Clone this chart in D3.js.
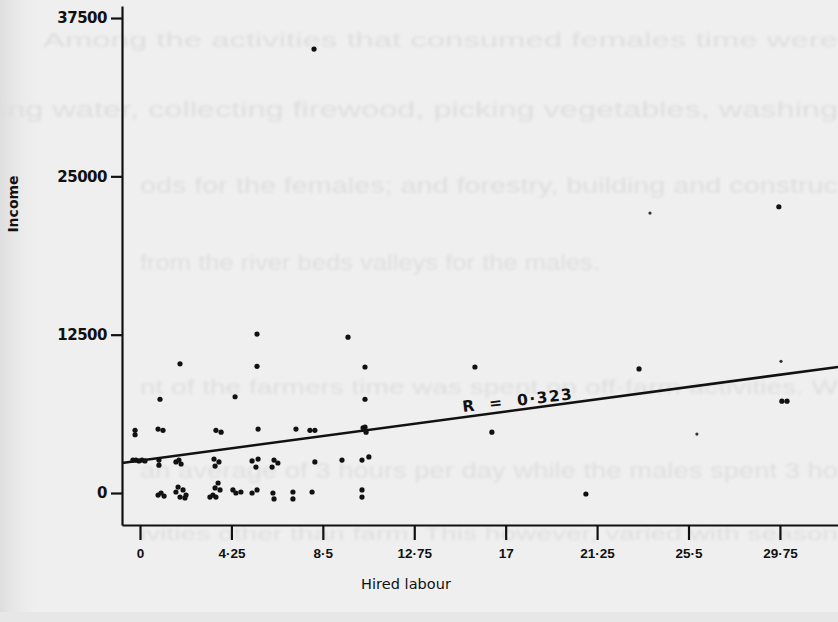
<!DOCTYPE html>
<html>
<head>
<meta charset="utf-8">
<script src="https://cdn.jsdelivr.net/npm/d3@7"></script>
<style>
  body { margin: 0; background: #efefef; }
  svg { display: block; }
  .axis path, .axis line { stroke: #111; stroke-width: 2.2; }
  .axis text { font-weight: bold; fill: #111; }
</style>
</head>
<body>
<svg id="chart" width="838" height="622"></svg>
<script>
// hired labour (x) and income (y)
var hours = [
  8.09, 23.71, 29.70, 29.80, 23.20, 29.84, 30.08, 25.89, 20.73, 16.36,
  9.67, 10.46, 10.46, 10.46, 10.37, 10.51, 15.57, 7.25, 7.90, 8.13,
  8.13, 9.39, 10.32, 10.64, 7.11, 7.11, 8.00, 10.32, 10.32, 5.49,
  5.21, 5.49, 5.39, 6.23, 6.41, 6.14, 5.21, 5.44, 6.18, 6.23,
  0.93, 4.42, 5.44, 1.86, 5.44, -0.23, -0.23, 0.84, 1.07, 3.53,
  3.77, -0.33, -0.19, -0.05, 0.09, 0.23, 0.88, 0.88, 1.67, 1.91,
  1.81, 3.44, 3.67, 3.49, 0.84, 0.98, 1.12, 1.77, 1.67, 2.00,
  2.14, 1.86, 2.09, 3.63, 3.49, 3.72, 3.39, 3.25, 3.53, 4.32,
  4.46, 4.69
];
var income = [
  35050, 22100, 22600, 10400, 9800, 7250, 7250, 4650, -80, 4800,
  12300, 9950, 7400, 5200, 5150, 4800, 9950, 5050, 4950, 4950,
  2450, 2600, 2600, 2850, 80, -470, 80, 240, -320, 5050,
  2530, 2680, 2050, 2600, 2370, 2050, 0, 240, 0, -470,
  7400, 7600, 12550, 10200, 10000, 4950, 4600, 5050, 4950, 4950,
  4800, 2600, 2600, 2530, 2600, 2530, 2600, 2200, 2450, 2290,
  2600, 2680, 2450, 2130, -160, 0, -240, 470, 80, 240,
  -160, -320, -390, 790, 400, 240, -160, -320, -320, 240,
  0, 80
];
// faint dots in the scan
var faint = [1, 3, 7];

var xTicks = [0, 4.25, 8.5, 12.75, 17, 21.25, 25.5, 29.75];
var xTickLabels = ["0", "4·25", "8·5", "12·75", "17", "21·25", "25·5", "29·75"];
var yTicks = [0, 12500, 25000, 37500];
var yTickLabels = ["0", "12500", "25000", "37500"];

// fitted line: income = intercept + slope * hours
var intercept = 2560, slope = 227.7;
var rLabel = "R  =  0·323";

// text showing through from the other side of the page
var ghostLines = [
  "Among the activities that consumed females time were",
  "ing water, collecting firewood, picking vegetables, washing",
  "ods  for  the  females;  and  forestry,  building  and  construc",
  "from the river beds valleys for the males.",
  "nt of the farmers time was spent on off-farm activities.  W",
  "an average of 3 hours per day while the males spent 3  ho",
  "ivities other than farm.  This however, varied with season"
];
var ghostX = [43, 0, 140, 140, 140, 140, 140];
var ghostY = [47, 117, 193, 270, 394, 478, 540];
var ghostW = [795, 838, 698, 460, 698, 698, 698];
var ghostSize = [21, 22, 22, 22, 21, 22, 19];

var svg = d3.select("#chart");

var defs = svg.append("defs");
defs.append("filter").attr("id", "soft")
  .attr("x", "-5%").attr("y", "-20%").attr("width", "110%").attr("height", "140%")
  .append("feGaussianBlur").attr("stdDeviation", 1.5);
var lg = defs.append("linearGradient").attr("id", "edge");
lg.append("stop").attr("offset", 0).attr("stop-color", "#dedede");
lg.append("stop").attr("offset", 1).attr("stop-color", "#efefef").attr("stop-opacity", 0);

svg.append("rect").attr("width", 838).attr("height", 622).attr("fill", "#efefef");
svg.append("rect").attr("width", 45).attr("height", 622).attr("fill", "url(#edge)");
svg.append("rect").attr("y", 612).attr("width", 838).attr("height", 10).attr("fill", "#e7e7e7");

svg.append("g").attr("filter", "url(#soft)")
  .selectAll("text")
  .data(ghostLines)
  .enter().append("text")
    .attr("x", function(d, i) { return ghostX[i]; })
    .attr("y", function(d, i) { return ghostY[i]; })
    .attr("textLength", function(d, i) { return ghostW[i]; })
    .attr("lengthAdjust", "spacingAndGlyphs")
    .attr("font-family", "Liberation Sans, sans-serif")
    .attr("font-size", function(d, i) { return ghostSize[i]; })
    .attr("fill", "#dedede")
    .text(function(d) { return d; });

var x = d3.scaleLinear().domain([-0.837, 32.45]).range([122, 838]);
var y = d3.scaleLinear().domain([-2526, 38449]).range([525, 6]);

svg.append("g")
    .attr("class", "axis")
    .attr("transform", "translate(0,525)")
    .call(d3.axisBottom(x)
      .tickValues(xTicks)
      .tickSizeInner(15)
      .tickSizeOuter(0)
      .tickPadding(8)
      .tickFormat(function(d, i) { return xTickLabels[i]; }))
  .selectAll("text")
    .attr("font-size", 13.5)
    .attr("font-family", "Liberation Sans Narrow, sans-serif");

svg.append("g")
    .attr("class", "axis")
    .attr("transform", "translate(122,0)")
    .call(d3.axisLeft(y)
      .tickValues(yTicks)
      .tickSizeInner(11)
      .tickSizeOuter(0)
      .tickPadding(4)
      .tickFormat(function(d, i) { return yTickLabels[i]; }))
  .selectAll("text")
    .attr("font-size", 15)
    .attr("font-family", "DejaVu Sans, sans-serif")
    .attr("letter-spacing", -0.5);

svg.selectAll(".axis text").attr("fill", "#111");

svg.append("text")
    .attr("x", 406)
    .attr("y", 589)
    .attr("text-anchor", "middle")
    .attr("font-family", "DejaVu Sans, sans-serif")
    .attr("font-size", 14.5)
    .attr("textLength", 90)
    .attr("fill", "#111")
    .text("Hired labour");

svg.append("text")
    .attr("transform", "translate(18,204) rotate(-90)")
    .attr("text-anchor", "middle")
    .attr("font-family", "DejaVu Sans, sans-serif")
    .attr("font-weight", "bold")
    .attr("font-size", 14)
    .attr("fill", "#111")
    .text("Income");

// regression line
var xd = x.domain();
svg.append("line")
    .attr("x1", x(xd[0])).attr("y1", y(intercept + slope * xd[0]))
    .attr("x2", x(xd[1])).attr("y2", y(intercept + slope * xd[1]))
    .attr("stroke", "#111")
    .attr("stroke-width", 2.6);

svg.append("text")
    .attr("transform", "translate(463,412) rotate(-6.6)")
    .attr("font-family", "DejaVu Sans, sans-serif")
    .attr("font-weight", "bold")
    .attr("font-size", 15.5)
    .attr("textLength", 110)
    .attr("fill", "#111")
    .style("white-space", "pre")
    .text(rLabel);

svg.append("g")
  .selectAll("circle")
  .data(hours)
  .enter().append("circle")
    .attr("cx", function(d) { return x(d); })
    .attr("cy", function(d, i) { return y(income[i]); })
    .attr("r", function(d, i) { return faint.indexOf(i) >= 0 ? 1.6 : 2.6; })
    .attr("fill", function(d, i) { return faint.indexOf(i) >= 0 ? "#333" : "#111"; });
</script>
</body>
</html>
